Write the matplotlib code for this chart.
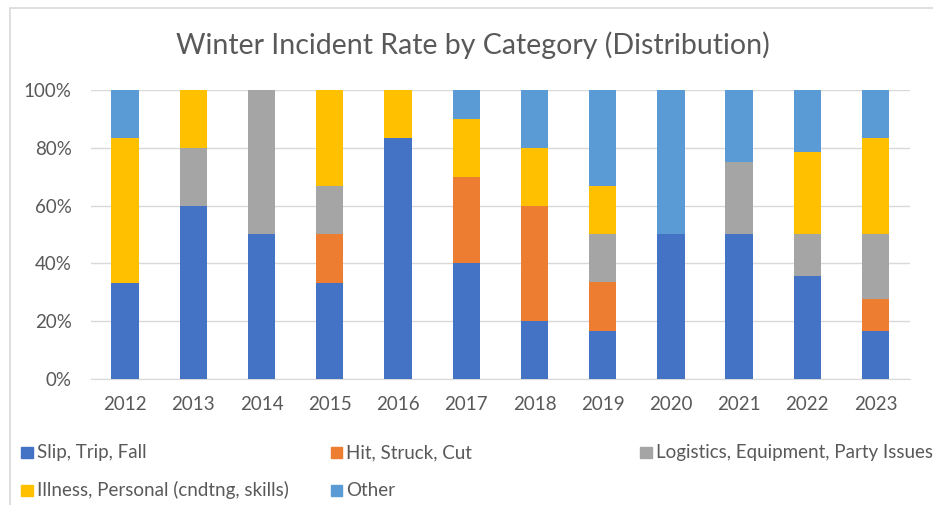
import matplotlib
matplotlib.use("Agg")
import matplotlib.pyplot as plt
from matplotlib.patches import Rectangle
import numpy as np

plt.rcParams['font.family'] = ['Lato', 'DejaVu Sans']

years = ['2012', '2013', '2014', '2015', '2016', '2017',
         '2018', '2019', '2020', '2021', '2022', '2023']

# share of incidents per category, in percent
slip = [33.3, 60, 50, 33.3, 83.3, 40, 20, 16.7, 50, 50, 35.7, 16.7]
hit = [0, 0, 0, 16.7, 0, 30, 40, 16.7, 0, 0, 0, 11.1]
logistics = [0, 20, 50, 16.7, 0, 0, 0, 16.7, 0, 25, 14.3, 22.2]
illness = [50, 20, 0, 33.3, 16.7, 20, 20, 16.7, 0, 0, 28.6, 33.3]
other = [16.7, 0, 0, 0, 0, 10, 20, 33.3, 50, 25, 21.4, 16.7]

labels = ['Slip, Trip, Fall', 'Hit, Struck, Cut', 'Logistics, Equipment, Party Issues',
          'Illness, Personal (cndtng, skills)', 'Other']
colors = ['#4472C4', '#ED7D31', '#A5A5A5', '#FFC000', '#5B9BD5']
series = [slip, hit, logistics, illness, other]

fig = plt.figure(figsize=(9.33, 5.05), dpi=100)
ax = fig.add_axes([0.0975, 0.2495, 0.8775, 0.5723])

x = np.arange(len(years))
bottom = np.zeros(len(years))
for vals, c in zip(series, colors):
    vals = np.array(vals, dtype=float)
    ax.bar(x, vals, 0.4, bottom=bottom, color=c, zorder=3)
    bottom += vals

ax.set_xlim(-0.5, len(years) - 0.5)
ax.set_ylim(0, 100)
ax.set_yticks(range(0, 101, 20))
ax.set_yticklabels([f'{v}%' for v in range(0, 101, 20)])
ax.set_xticks(x)
ax.set_xticklabels(years)
ax.grid(axis='y', color='#d9d9d9', linewidth=1, zorder=0)
for s in ['top', 'right', 'left']:
    ax.spines[s].set_visible(False)
ax.spines['bottom'].set_color('#d9d9d9')
ax.tick_params(length=0, labelsize=13.5, colors='#595959')
ax.tick_params(axis='y', pad=14)
ax.tick_params(axis='x', pad=12)

fig.text(0.507, 0.911, 'Winter Incident Rate by Category (Distribution)',
         ha='center', va='center', fontsize=20.5, color='#595959')

# chart frame
fig.patches.append(Rectangle((10 / 933, -0.1), 1.2, 1.1 - 8 / 505,
                             transform=fig.transFigure, fill=False,
                             edgecolor='#d9d9d9', linewidth=1.2))

# legend laid out like Excel: three equal columns
for i, (lab, c) in enumerate(zip(labels, colors)):
    col, row = i % 3, i // 3
    px = (21 + col * 309.5) / 933
    py = 1 - (452.5 + row * 37.5) / 505
    fig.patches.append(Rectangle((px, py - 5.5 / 505), 11.5 / 933, 11 / 505,
                                 transform=fig.transFigure, color=c))
    fig.text(px + 16 / 933, py, lab, ha='left', va='center',
             fontsize=13.5, color='#595959')

fig.savefig('out.png', dpi=100)
